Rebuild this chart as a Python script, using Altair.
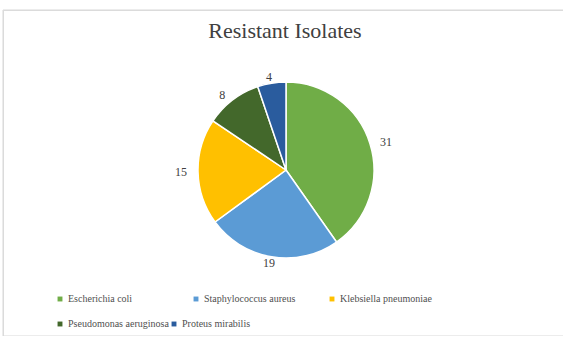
import altair as alt
import pandas as pd

# Resistant isolates per organism
species = [
    "Escherichia coli",
    "Staphylococcus aureus",
    "Klebsiella pneumoniae",
    "Pseudomonas aeruginosa",
    "Proteus mirabilis",
]
counts = [31, 19, 15, 8, 4]
colors = ["#70AD47", "#5B9BD5", "#FFC000", "#43682B", "#2A5C9E"]

df = pd.DataFrame({"species": species, "count": counts, "idx": list(range(len(species)))})

SERIF = "Times New Roman, Liberation Serif, serif"
W, H = 560, 326     # chart frame
CX, CY = 283, 160   # pie centre inside the frame
R = 88
FRAME = "#d9d9d9"

color_scale = alt.Scale(domain=species, range=colors)


def legend(values, y, columns, col_pad):
    return alt.Legend(
        title=None,
        values=values,
        orient="none",
        legendX=52,
        legendY=y,
        direction="horizontal",
        columns=columns,
        gridAlign="all",
        columnPadding=col_pad,
        symbolType="square",
        symbolSize=24,
        symbolStrokeWidth=0,
        symbolOpacity=1,
        labelFont=SERIF,
        labelFontSize=10,
        labelColor="#505050",
        labelOffset=3,
        labelLimit=300,
    )


base = alt.Chart(df).transform_joinaggregate(total="sum(count)")

theta = alt.Theta("count:Q", stack=True)
order = alt.Order("idx:Q", sort="ascending")

arcs_a = base.mark_arc(outerRadius=R, stroke="white", strokeWidth=1.5).encode(
    theta=theta,
    order=order,
    color=alt.Color("species:N", scale=color_scale,
                    legend=legend(species[:3], 284, 3, 31)),
    x=alt.value(CX),
    y=alt.value(CY),
)

arcs_b = base.mark_arc(outerRadius=R, stroke="white", strokeWidth=1.5).encode(
    theta=theta,
    order=order,
    color=alt.Color("species:N", scale=color_scale,
                    legend=legend(species[3:], 309, 2, 0)),
    x=alt.value(CX),
    y=alt.value(CY),
)

# value labels sit just outside the rim; pushed sideways by the text's half width
labels = base.mark_text(
    radius=94,
    font=SERIF,
    fontSize=12,
    color="#404040",
    dx=alt.expr("11*sin(PI*(datum.count_start+datum.count_end)/datum.total)"),
).encode(
    theta=theta,
    order=order,
    text=alt.Text("count:Q"),
    x=alt.value(CX),
    y=alt.value(CY),
)

# light frame around the chart (top, left and bottom edges)
edge = alt.Chart(pd.DataFrame({"edge": [0]}))
top_edge = edge.mark_rule(color=FRAME, strokeWidth=1).encode(
    x=alt.value(0), x2=alt.value(W), y=alt.value(0))
left_edge = edge.mark_rule(color=FRAME, strokeWidth=1).encode(
    x=alt.value(0), y=alt.value(0), y2=alt.value(H))
bottom_edge = edge.mark_rule(color=FRAME, strokeWidth=1).encode(
    x=alt.value(0), x2=alt.value(W), y=alt.value(H))

chart = (
    alt.layer(top_edge, left_edge, bottom_edge, arcs_a, arcs_b, labels)
    .resolve_scale(color="independent")
    .properties(
        width=W,
        height=H,
        padding={"left": 3, "top": 10, "right": 0, "bottom": 0},
        autosize=alt.AutoSizeParams(type="none"),
        title=alt.TitleParams(
            "Resistant Isolates",
            font=SERIF,
            fontSize=22,
            fontWeight="normal",
            color="#404040",
            anchor="middle",
            dx=2,
            offset=-33,
        ),
    )
    .configure_view(strokeOpacity=0)
    .configure(background="white")
)

chart.save("out.html", embed_options={"renderer": "svg", "actions": False})
